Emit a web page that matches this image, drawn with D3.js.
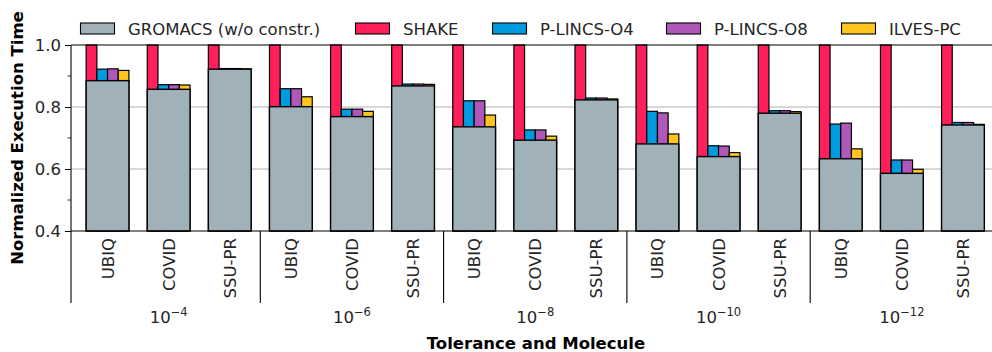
<!DOCTYPE html>
<html>
<head>
<meta charset="utf-8">
<script src="https://cdn.jsdelivr.net/npm/d3@7"></script>
<style>
  body { margin: 0; background: #fff; }
  svg { display: block; font-family: "DejaVu Sans", sans-serif; }
</style>
</head>
<body>
<div id="chart"></div>
<script>
(function () {
  'use strict';

  // molecules repeated for each tolerance
  const molecules = ["UBIQ", "COVID", "SSU-PR"];
  const tolerances = ["\u22124", "\u22126", "\u22128", "\u221210", "\u221212"];
  const seriesNames = ["SHAKE", "P-LINCS-O4", "P-LINCS-O8", "ILVES-PC"];
  const baseName = "GROMACS (w/o constr.)";

  // values, in order tolerance x molecule
  const gromacs = [0.885, 0.857, 0.922, 0.801, 0.769, 0.868, 0.736, 0.693, 0.823, 0.681, 0.640, 0.780, 0.633, 0.586, 0.742];
  const shake = [1, 1, 1, 1, 1, 1, 1, 1, 1, 1, 1, 1, 1, 1, 1];
  const plincsO4 = [0.922, 0.872, 0.924, 0.859, 0.793, 0.874, 0.820, 0.726, 0.829, 0.786, 0.675, 0.788, 0.745, 0.629, 0.750];
  const plincsO8 = [0.923, 0.872, 0.924, 0.859, 0.793, 0.874, 0.820, 0.726, 0.829, 0.781, 0.674, 0.788, 0.748, 0.629, 0.750];
  const ilves = [0.918, 0.871, 0.923, 0.833, 0.786, 0.873, 0.774, 0.706, 0.826, 0.713, 0.653, 0.785, 0.665, 0.599, 0.744];

  const yTicks = [0.4, 0.6, 0.8, 1.0];
  const yMinorTicks = [0.5, 0.7, 0.9];

  const colors = ["#ff1f5b", "#009ade", "#af58ba", "#ffc61e"];
  const grey = "#a0b1ba";
  const fs = 16.5;

  const width = 992, height = 352;
  const left = 71, top = 45, bottom = 231;

  const svg = d3.select('#chart')
    .append('svg')
    .attr('width', width)
    .attr('height', height);

  // one entry per bar position
  const rows = [];
  tolerances.forEach((t, ti) => {
    molecules.forEach((m, mi) => {
      const i = ti * molecules.length + mi;
      rows.push({
        id: i, tol: t, mol: m, base: gromacs[i],
        vals: [shake[i], plincsO4[i], plincsO8[i], ilves[i]]
      });
    });
  });

  const x = d3.scaleBand()
    .domain(rows.map(d => d.id))
    .range([77, 993.5])
    .paddingInner(0.3)
    .paddingOuter(0.15);

  const xSub = d3.scaleBand()
    .domain(d3.range(seriesNames.length))
    .range([0, x.bandwidth()]);

  const y = d3.scaleLinear()
    .domain([0.4, 1.0])
    .range([bottom, top]);

  // grid lines
  svg.append('g')
    .selectAll('line')
    .data([0.6, 0.8])
    .join('line')
    .attr('x1', left).attr('x2', width)
    .attr('y1', d => y(d)).attr('y2', d => y(d))
    .attr('stroke', '#b0b0b0')
    .attr('stroke-width', 1);

  const groups = svg.append('g')
    .selectAll('g')
    .data(rows)
    .join('g')
    .attr('transform', d => `translate(${x(d.id)},0)`);

  // narrow bars behind
  groups.selectAll('rect.sub')
    .data(d => d.vals)
    .join('rect')
    .attr('class', 'sub')
    .attr('x', (d, i) => xSub(i))
    .attr('width', xSub.bandwidth())
    .attr('y', d => y(Math.min(d, 1)))
    .attr('height', d => y(0.4) - y(Math.min(d, 1)))
    .attr('fill', (d, i) => colors[i])
    .attr('stroke', '#000')
    .attr('stroke-width', 1.2);

  // grey base bar on top
  groups.append('rect')
    .attr('x', 0)
    .attr('width', x.bandwidth())
    .attr('y', d => y(d.base))
    .attr('height', d => y(0.4) - y(d.base))
    .attr('fill', grey)
    .attr('stroke', '#000')
    .attr('stroke-width', 1.4);

  // spines
  svg.append('line')
    .attr('x1', left).attr('x2', width)
    .attr('y1', top).attr('y2', top)
    .attr('stroke', '#000').attr('stroke-width', 1.1);
  svg.append('line')
    .attr('x1', left).attr('x2', width)
    .attr('y1', bottom).attr('y2', bottom)
    .attr('stroke', '#000').attr('stroke-width', 1.1);
  svg.append('line')
    .attr('x1', left).attr('x2', left)
    .attr('y1', top).attr('y2', 303)
    .attr('stroke', '#000').attr('stroke-width', 1.1);

  // y axis
  const yAxis = svg.append('g')
    .attr('transform', `translate(${left},0)`)
    .call(d3.axisLeft(y).tickValues(yTicks).tickFormat(d3.format('.1f')).tickSize(6).tickPadding(4));
  yAxis.select('.domain').remove();
  yAxis.selectAll('text')
    .attr('font-size', fs)
    .attr('font-family', '"DejaVu Sans", sans-serif')
    .attr('fill', '#262626');
  yAxis.selectAll('line').attr('stroke', '#000').attr('stroke-width', 1);

  svg.append('g')
    .selectAll('line')
    .data(yMinorTicks)
    .join('line')
    .attr('x1', left - 3.5).attr('x2', left)
    .attr('y1', d => y(d)).attr('y2', d => y(d))
    .attr('stroke', '#000').attr('stroke-width', 0.8);

  // molecule labels
  svg.append('g')
    .selectAll('text')
    .data(rows)
    .join('text')
    .attr('transform', d => `translate(${x(d.id) + x.bandwidth() / 2 + 6},238) rotate(-90)`)
    .attr('text-anchor', 'end')
    .attr('font-size', fs)
    .attr('fill', '#262626')
    .text(d => d.mol);

  // group separators
  const nMol = molecules.length;
  svg.append('g')
    .selectAll('line')
    .data(d3.range(1, tolerances.length))
    .join('line')
    .attr('x1', i => x(i * nMol) - x.step() * x.paddingInner() / 2)
    .attr('x2', i => x(i * nMol) - x.step() * x.paddingInner() / 2)
    .attr('y1', bottom).attr('y2', 303)
    .attr('stroke', '#000').attr('stroke-width', 1.1);

  // tolerance labels
  const tolLabels = svg.append('g')
    .selectAll('text')
    .data(tolerances)
    .join('text')
    .attr('x', (t, i) => x(i * nMol + 1) + x.bandwidth() / 2)
    .attr('y', 323)
    .attr('text-anchor', 'middle')
    .attr('font-size', fs)
    .attr('fill', '#262626');
  tolLabels.append('tspan').text('10');
  tolLabels.append('tspan')
    .attr('dy', -7)
    .attr('font-size', 11.5)
    .text(t => t);

  // axis titles
  svg.append('text')
    .attr('x', 536).attr('y', 348.5)
    .attr('text-anchor', 'middle')
    .attr('font-size', fs)
    .attr('font-weight', 'bold')
    .text('Tolerance and Molecule');

  svg.append('text')
    .attr('transform', `translate(23,138) rotate(-90)`)
    .attr('text-anchor', 'middle')
    .attr('font-size', fs)
    .attr('font-weight', 'bold')
    .text('Normalized Execution Time');

  // legend
  const legendItems = [
    { name: baseName, color: grey, x: 80.5 },
    { name: seriesNames[0], color: colors[0], x: 355.5 },
    { name: seriesNames[1], color: colors[1], x: 492.5 },
    { name: seriesNames[2], color: colors[2], x: 666.5 },
    { name: seriesNames[3], color: colors[3], x: 841.5 }
  ];
  const legend = svg.append('g')
    .selectAll('g')
    .data(legendItems)
    .join('g')
    .attr('transform', d => `translate(${d.x},23)`);
  legend.append('rect')
    .attr('width', 34).attr('height', 11)
    .attr('fill', d => d.color)
    .attr('stroke', '#000').attr('stroke-width', 1.1);
  legend.append('text')
    .attr('x', 47.5).attr('y', 12)
    .attr('font-size', fs)
    .attr('fill', '#262626')
    .text(d => d.name);
})();
</script>
</body>
</html>
